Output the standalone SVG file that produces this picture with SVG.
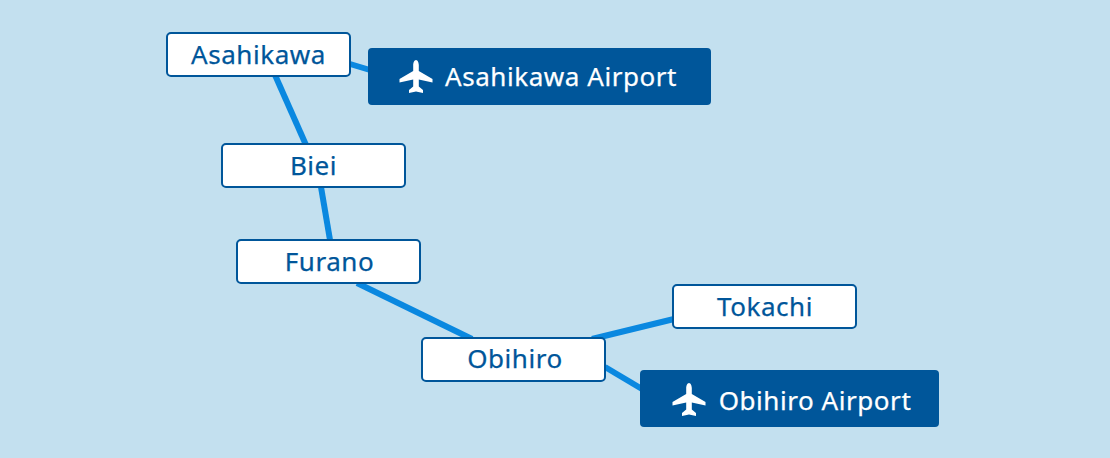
<svg xmlns="http://www.w3.org/2000/svg" width="1110" height="458" viewBox="0 0 1110 458">
<style>
.n{fill:#fff;stroke:#00569a;stroke-width:2}
.a{fill:#00569a}
.l{font-family:"Noto Sans","Open Sans",sans-serif;font-size:26px;letter-spacing:.55px;text-anchor:middle;fill:#00569a;stroke:#00569a;stroke-width:.25}
.l.w{fill:#fff;stroke:#fff}
.p{fill:#fff}
.c{stroke:#0a88e0;stroke-width:6;fill:none}
</style>
<defs><path id="plane" d="M0-17 C1.800-17 2.800-14 2.800-12 L2.800-6 L16.500 2 L16.500 5.500 L2.800 2.500 L2.800 9.500 L7 13 L7 16 L0 14.500 L-7 16 L-7 13 L-2.800 9.500 L-2.800 2.500 L-16.500 5.500 L-16.500 2 L-2.800-6 L-2.800-12 C-2.800-14 -1.800-17 0-17Z"/></defs>
<rect width="1110" height="458" fill="#c3e0ef"/>
<g id="connectors" class="c">
<path d="M350 64L370 70"/><path d="M275 75L306 145"/><path d="M321 187L330 240"/><path d="M357 283L472 339"/><path d="M592 339L674 319"/><path d="M605 367L642 389"/>
</g>
<g id="asahikawa"><rect class="n" x="167" y="33" width="183" height="43" rx="4"/><text class="l" x="258.500" y="64">Asahikawa</text></g>
<g id="asahikawa-airport"><rect class="a" x="368" y="48" width="343" height="57" rx="4"/><use class="p" href="#plane" x="416" y="77"/><text class="l w" x="561" y="86">Asahikawa Airport</text></g>
<g id="biei"><rect class="n" x="222" y="144" width="183" height="43" rx="4"/><text class="l" x="313.500" y="175">Biei</text></g>
<g id="furano"><rect class="n" x="237" y="240" width="183" height="43" rx="4"/><text class="l" x="329.500" y="271">Furano</text></g>
<g id="obihiro"><rect class="n" x="422" y="338" width="183" height="43" rx="4"/><text class="l" x="515" y="368">Obihiro</text></g>
<g id="tokachi"><rect class="n" x="673" y="285" width="183" height="43" rx="4"/><text class="l" x="765" y="316">Tokachi</text></g>
<g id="obihiro-airport"><rect class="a" x="640" y="370" width="299" height="57" rx="4"/><use class="p" href="#plane" x="689" y="400"/><text class="l w" x="815" y="410">Obihiro Airport</text></g>
</svg>
